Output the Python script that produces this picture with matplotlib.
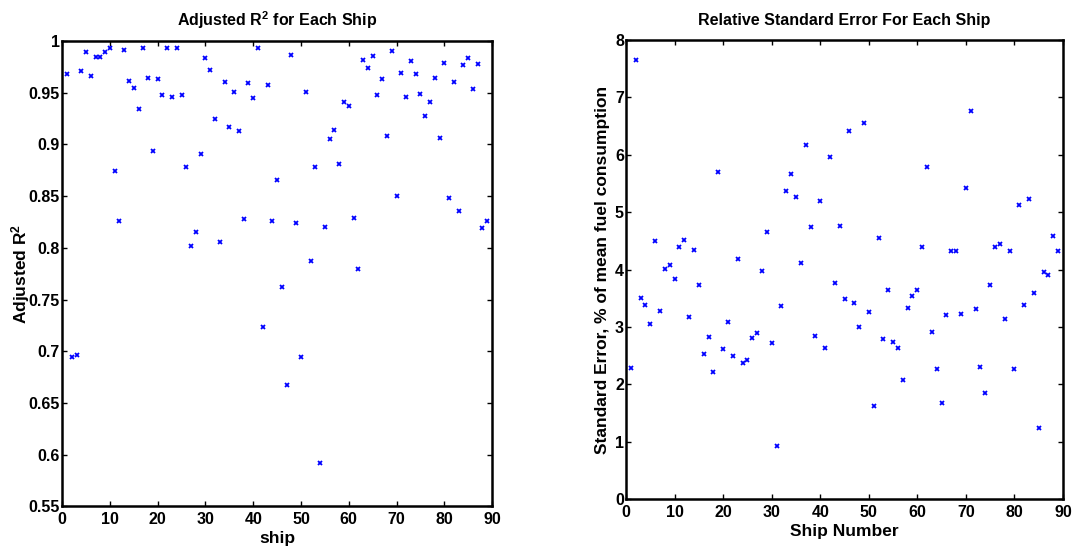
# Adjusted R^2 and relative standard error per ship
import numpy as np
import matplotlib
matplotlib.use("Agg")
import matplotlib.pyplot as plt

plt.rcParams['font.family'] = ['Liberation Sans Narrow', 'Liberation Sans', 'DejaVu Sans']
plt.rcParams['font.weight'] = 'bold'
plt.rcParams['mathtext.fontset'] = 'custom'
plt.rcParams['mathtext.rm'] = 'Liberation Sans:bold'
plt.rcParams['mathtext.it'] = 'Liberation Sans:bold'
plt.rcParams['mathtext.bf'] = 'Liberation Sans:bold'

# Data
ships = np.arange(1, 90)

adj_r2 = [0.968, 0.694, 0.696, 0.971, 0.989, 0.966, 0.985, 0.985, 0.989, 0.993,
          0.874, 0.826, 0.991, 0.961, 0.955, 0.934, 0.993, 0.964, 0.894, 0.963,
          0.948, 0.993, 0.946, 0.993, 0.948, 0.878, 0.802, 0.815, 0.891, 0.984,
          0.972, 0.925, 0.806, 0.960, 0.917, 0.951, 0.913, 0.828, 0.959, 0.945,
          0.993, 0.723, 0.958, 0.826, 0.866, 0.762, 0.667, 0.987, 0.824, 0.694,
          0.951, 0.787, 0.878, 0.592, 0.820, 0.905, 0.914, 0.881, 0.941, 0.937,
          0.829, 0.780, 0.982, 0.974, 0.986, 0.948, 0.963, 0.908, 0.990, 0.850,
          0.969, 0.946, 0.981, 0.968, 0.949, 0.928, 0.941, 0.964, 0.906, 0.979,
          0.848, 0.960, 0.836, 0.977, 0.984, 0.954, 0.978, 0.819, 0.826]

rel_se = [2.29, 7.65, 3.50, 3.38, 3.05, 4.50, 3.28, 4.01, 4.08, 3.83,
          4.40, 4.51, 3.17, 4.35, 3.73, 2.53, 2.83, 2.22, 5.70, 2.61,
          3.09, 2.49, 4.18, 2.37, 2.42, 2.80, 2.89, 3.97, 4.66, 2.73,
          0.93, 3.36, 5.37, 5.66, 5.27, 4.11, 6.17, 4.74, 2.85, 5.19,
          2.63, 5.96, 3.76, 4.76, 3.48, 6.42, 3.42, 3.00, 6.56, 3.26,
          1.63, 4.55, 2.79, 3.64, 2.74, 2.63, 2.07, 3.33, 3.54, 3.65,
          4.40, 5.79, 2.92, 2.27, 1.67, 3.21, 4.33, 4.32, 3.23, 5.42,
          6.77, 3.31, 2.31, 1.85, 3.74, 4.40, 4.45, 3.14, 4.33, 2.27,
          5.13, 3.38, 5.23, 3.60, 1.24, 3.96, 3.91, 4.59, 4.33]

fig = plt.figure(figsize=(10.72, 5.48), dpi=100)
ax1 = fig.add_axes([0.058, 0.076, 0.401, 0.849])
ax2 = fig.add_axes([0.584, 0.089, 0.4076, 0.838])

def style(ax):
    for s in ax.spines.values():
        s.set_linewidth(1.8)
    ax.tick_params(direction='in', top=True, right=True, length=3.5, width=1,
                   labelsize=11.5, pad=1.5)
    ax.tick_params(axis='x', pad=4)
    for lab in ax.get_xticklabels() + ax.get_yticklabels():
        lab.set_fontweight('bold')

# Left: adjusted R^2
ax1.plot(ships, adj_r2, 'x', color='blue', ms=3.5, mew=1.3)
ax1.set_xlim(0, 90)
ax1.set_ylim(0.55, 1)
ax1.set_xticks(np.arange(0, 91, 10))
ax1.set_yticks(np.arange(0.55, 1.001, 0.05))
ax1.set_yticklabels(['0.55', '0.6', '0.65', '0.7', '0.75', '0.8', '0.85', '0.9', '0.95', '1'])
ax1.set_title('Adjusted R$^2$ for Each Ship', fontsize=11.5, fontweight='bold', pad=11)
ax1.set_xlabel('ship', fontsize=12.5, fontweight='bold')
ax1.set_ylabel('Adjusted R$^2$', fontsize=12.5, fontweight='bold')
ax1.xaxis.set_label_coords(0.5, -0.052)
ax1.yaxis.set_label_coords(-0.071, 0.5)
style(ax1)

# Right: relative standard error
ax2.plot(ships, rel_se, 'x', color='blue', ms=3.5, mew=1.3)
ax2.set_xlim(0, 90)
ax2.set_ylim(0, 8)
ax2.set_xticks(np.arange(0, 91, 10))
ax2.set_yticks(np.arange(0, 9, 1))
ax2.set_title('Relative Standard Error For Each Ship', fontsize=11.5, fontweight='bold', pad=11)
ax2.set_xlabel('Ship Number', fontsize=12.5, fontweight='bold')
ax2.set_ylabel('Standard Error, % of mean fuel consumption', fontsize=12.5,
               fontweight='bold')
ax2.xaxis.set_label_coords(0.5, -0.055)
ax2.yaxis.set_label_coords(-0.036, 0.5)
style(ax2)

fig.savefig('out.png', dpi=100)
